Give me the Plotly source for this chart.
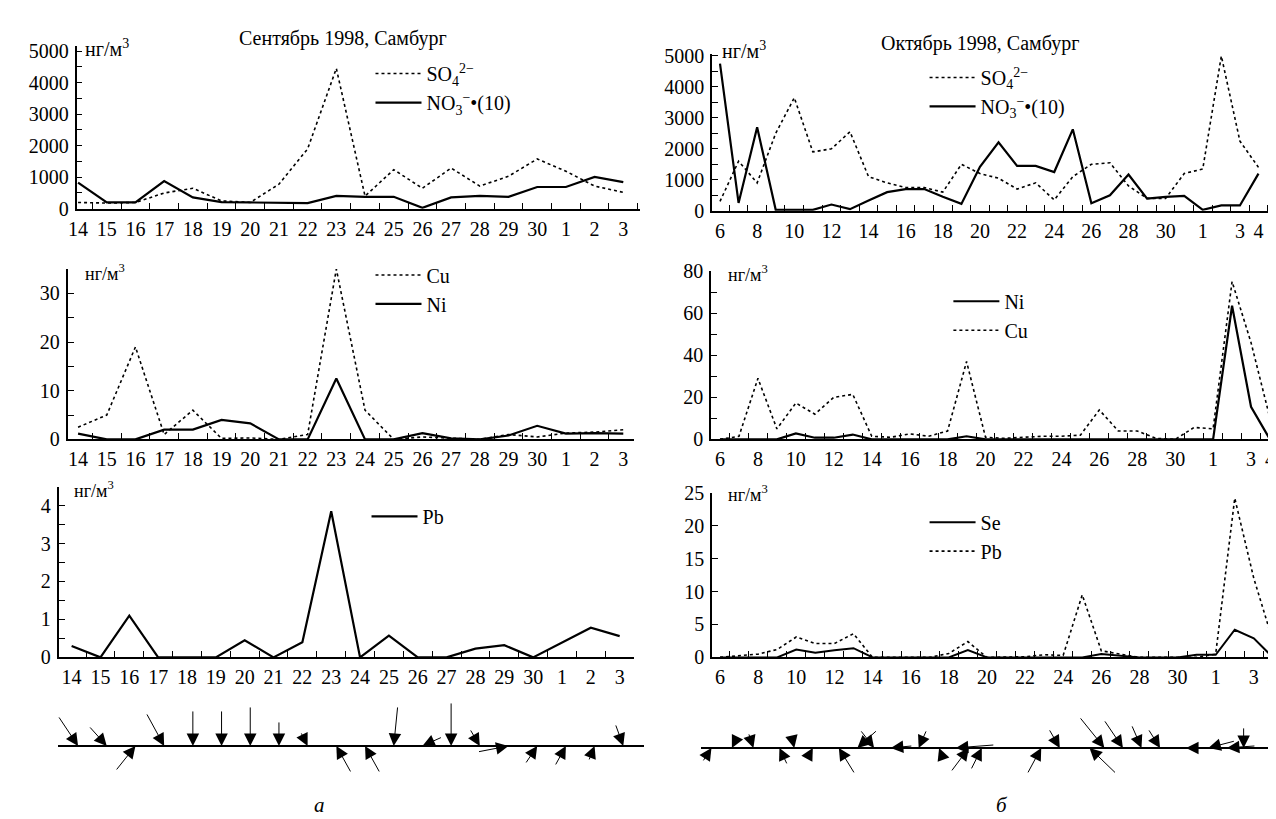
import plotly.graph_objects as go

W, H = 1276, 819
FONT = "Liberation Serif, Times New Roman, serif"

# ---------------- data ----------------
sep_labels = ["14", "15", "16", "17", "18", "19", "20", "21", "22", "23", "24",
              "25", "26", "27", "28", "29", "30", "1", "2", "3"]
sep_so4 = [200, 180, 200, 500, 650, 250, 200, 780, 1900, 4450, 400, 1240, 650,
           1290, 720, 1030, 1580, 1190, 720, 520]
sep_no3x10 = [830, 200, 200, 880, 360, 210, 200, 180, 180, 410, 380, 380, 30,
              360, 410, 380, 690, 690, 1010, 845]
sep_cu = [2.5, 5, 19, 1, 6, 0.2, 0.3, 0, 1, 35, 6, 0, 0.5, 0.3, 0, 1, 0.5, 1.3, 1.5, 2]
sep_ni = [1.2, 0, 0, 2, 2, 4, 3.3, 0, 0, 12.5, 0, 0, 1.3, 0.2, 0, 0.8, 2.8, 1.2, 1.3, 1.2]
sep_pb = [0.3, 0, 1.1, 0, 0, 0, 0.45, 0, 0.4, 3.85, 0, 0.57, 0, 0, 0.23, 0.32, 0,
          0.38, 0.78, 0.56]

oct_days = ["6", "7", "8", "9", "10", "11", "12", "13", "14", "15", "16", "17",
            "18", "19", "20", "21", "22", "23", "24", "25", "26", "27", "28",
            "29", "30", "31", "1", "2", "3", "4"]
oct_tick_labels = ["6", "8", "10", "12", "14", "16", "18", "20", "22", "24",
                   "26", "28", "30", "1", "3", "4"]
oct_so4 = [300, 1600, 900, 2500, 3650, 1900, 2000, 2550, 1100, 900, 750, 750,
           600, 1500, 1200, 1050, 700, 900, 350, 1100, 1500, 1550, 800, 400,
           400, 1200, 1350, 5000, 2250, 1400]
oct_no3x10 = [4750, 250, 2700, 30, 30, 30, 200, 50, 330, 600, 700, 700, 450,
              220, 1420, 2210, 1450, 1450, 1250, 2630, 240, 500, 1170, 390,
              450, 480, 30, 170, 170, 1200]
oct_ni = [0, 0, 0, 0, 2.8, 0.8, 0.8, 2.3, 0, 0, 0, 0, 0, 1.5, 0, 0, 0, 0, 0, 0,
          0, 0, 0, 0, 0, 0, 0, 63.5, 15.5, 0]
oct_cu = [0, 1.5, 29, 5, 17.3, 12, 20, 21.4, 1.5, 1, 2.6, 1.5, 4, 37, 1, 0.5, 1,
          1.5, 1.5, 2, 14, 4, 4, 0.5, 0, 5.7, 5, 75, 46, 10]
oct_pb = [0, 0.2, 0.5, 1.2, 3.1, 2.1, 2.1, 3.6, 0, 0, 0, 0, 0.6, 2.4, 0, 0, 0.1,
          0.4, 0.3, 9.5, 1, 0.5, 0, 0, 0, 0, 0.5, 24.2, 12, 2.5]
oct_se = [0, 0, 0, 0, 1.2, 0.7, 1.1, 1.4, 0, 0, 0, 0, 0, 1.1, 0, 0, 0, 0, 0, 0,
          0.5, 0.3, 0, 0, 0, 0.4, 0.4, 4.2, 2.9, 0]

# wind vectors (east component u, north component v), one per observation
sep_wind_u = [20, 18, 20, 18, 0, 0, 0, 0, 7, -15, -15, -4, -20, 0, 10, 31, 12, 11, 6, 8]
sep_wind_v = [-30, -20, 25, -33, -36, -36, -40, -25, -14, 27, 27, -40, -9, -44,
              -17, 6, 18, 20, 15, -22]
oct_wind_t = [-0.46, 0.64, 1.8, 3.2, 4.0, 5.0, 6.4, 7.4, 8.3, 9.2, 10.7, 11.8,
              12.7, 13.4, 14.1, 17.3, 18.3, 19.9, 20.7, 21.7, 22.7, 23.7, 25.1,
              26.3, 27.3, 28.2, 29.6, 30.2]
oct_wind_u = [9, -4, 5, -8, 3, 6, -16, -20, 14, -22, -8, -3, -39, 18, 11, 14, 11,
              -27, 25, 19, 10, 12, -18, -27, -29, 0, -10, -1]
oct_wind_v = [14, -8, -15, 17, -13, 11, 26, -18, -18, -2, -18, 8, -3, 24, 22, 26,
              -19, 26, -31, -28, -23, -19, 0, -7, -2, -21, -11, -8]

sep_x = list(range(len(sep_labels)))
oct_x = list(range(len(oct_days)))
oct_tick_pos = [0, 2, 4, 6, 8, 10, 12, 14, 16, 18, 20, 22, 24, 26, 28, 29]

fig = go.Figure()

# ---------------- panel geometry (pixels) ----------------
panels = {
    1: dict(l=60, r=627, x0=61.5, step=28.9, y0=195, ppu=162 / 5000, ymax=5150, major=1000, minor=500, side="sep"),
    2: dict(l=700, r=1261, x0=708, step=18.7, y0=197, ppu=159 / 5000, ymax=5050, major=1000, minor=500, side="oct"),
    3: dict(l=51, r=621, x0=61.5, step=28.9, y0=432, ppu=5.0, ymax=35, major=10, minor=5, side="sep"),
    4: dict(l=699, r=1273, x0=708, step=19.1, y0=432, ppu=173 / 80, ymax=80, major=20, minor=10, side="oct"),
    5: dict(l=42, r=621, x0=55, step=29.05, y0=656, ppu=39.0, ymax=4.5, major=1, minor=0.5, side="sep"),
    6: dict(l=700, r=1273, x0=708, step=19.2, y0=656, ppu=169 / 25, ymax=25, major=5, minor=None, side="oct"),
}

tickfont = dict(family=FONT, size=20, color="black")
layout = dict(
    width=W, height=H, margin=dict(l=0, r=0, t=0, b=0),
    paper_bgcolor="white", plot_bgcolor="white",
    font=dict(family=FONT, size=20, color="black"),
    showlegend=True,
)

for k, p in panels.items():
    xr = [(p["l"] - p["x0"]) / p["step"], (p["r"] - p["x0"]) / p["step"]]
    top = p["y0"] - p["ymax"] * p["ppu"]
    n = len(sep_labels) if p["side"] == "sep" else len(oct_days)
    if p["side"] == "sep":
        tv, tt = sep_x, sep_labels
    else:
        tv, tt = oct_tick_pos, oct_tick_labels
    layout["xaxis%d" % k] = dict(
        domain=[p["l"] / W, p["r"] / W], range=xr, anchor="y%d" % k,
        showline=True, linecolor="black", linewidth=1.8, showgrid=False,
        zeroline=False, tickmode="array", tickvals=tv, ticktext=tt,
        ticks="", tickfont=tickfont, ticklabelstandoff=1,
        minor=dict(tickmode="array", tickvals=[i + 0.5 for i in range(n)],
                   ticks="inside", ticklen=6, tickwidth=1.2, tickcolor="black",
                   showgrid=False),
        fixedrange=True,
    )
    ymaj = []
    v = 0
    while v <= p["ymax"] + 1e-9:
        ymaj.append(v)
        v += p["major"]
    ymin_ticks = []
    if p["minor"]:
        v = p["minor"]
        while v <= p["ymax"] + 1e-9:
            if abs(v / p["major"] - round(v / p["major"])) > 1e-6:
                ymin_ticks.append(v)
            v += p["minor"]
    ya = dict(
        domain=[1 - p["y0"] / H, 1 - top / H], range=[0, p["ymax"]],
        anchor="x%d" % k, showline=True, linecolor="black", linewidth=1.8,
        showgrid=False, zeroline=False, tickmode="array", tickvals=ymaj,
        ticks="inside", ticklen=6, tickwidth=1.2, tickcolor="black",
        tickfont=tickfont, ticklabelstandoff=2, fixedrange=True,
    )
    if ymin_ticks:
        ya["minor"] = dict(tickmode="array", tickvals=ymin_ticks, ticks="inside",
                           ticklen=6, tickwidth=1.2, tickcolor="black", showgrid=False)
    layout["yaxis%d" % k] = ya

# wind panels
wind = {
    7: dict(l=41, r=631, x0=61.5, step=28.9, y=747),
    8: dict(l=689, r=1276, x0=708, step=18.7, y=749),
}
for k, p in wind.items():
    layout["xaxis%d" % k] = dict(
        domain=[p["l"] / W, p["r"] / W],
        range=[(p["l"] - p["x0"]) / p["step"], (p["r"] - p["x0"]) / p["step"]],
        anchor="y%d" % k, visible=False, fixedrange=True)
    layout["yaxis%d" % k] = dict(
        domain=[1 - (p["y"] + 40) / H, 1 - (p["y"] - 40) / H], range=[-1, 1],
        anchor="x%d" % k, showline=False, showgrid=False, showticklabels=False,
        ticks="", zeroline=True, zerolinecolor="black", zerolinewidth=1.8,
        fixedrange=True)

# ---------------- traces ----------------
solid = dict(color="black", width=2.2)
dotted = dict(color="black", width=1.6, dash="3px,3px")

def add(x, y, name, line, k, leg):
    fig.add_trace(go.Scatter(x=x, y=y, name=name, mode="lines", line=line,
                             xaxis="x%d" % k, yaxis="y%d" % k, legend=leg,
                             hoverinfo="skip"))

so4 = "SO<sub>4</sub><sup>2−</sup>"
no3 = "NO<sub>3</sub><sup>−</sup>•(10)"
add(sep_x, sep_so4, so4, dotted, 1, "legend")
add(sep_x, sep_no3x10, no3, solid, 1, "legend")
add(oct_x, oct_so4, so4, dotted, 2, "legend2")
add(oct_x, oct_no3x10, no3, solid, 2, "legend2")
add(sep_x, sep_cu, "Cu", dotted, 3, "legend3")
add(sep_x, sep_ni, "Ni", solid, 3, "legend3")
add(oct_x, oct_ni, "Ni", solid, 4, "legend4")
add(oct_x, oct_cu, "Cu", dotted, 4, "legend4")
add(sep_x, sep_pb, "Pb", solid, 5, "legend5")
add(oct_x, oct_se, "Se", dict(color="black", width=2), 6, "legend6")
add(oct_x, oct_pb, "Pb", dotted, 6, "legend6")

def legend_at(xpx, ypx):
    return dict(x=xpx / W, y=1 - ypx / H, xanchor="left", yanchor="top",
                bgcolor="rgba(0,0,0,0)", borderwidth=0, tracegroupgap=0,
                itemwidth=46,
                font=dict(family=FONT, size=20, color="black"),
                itemclick=False, itemdoubleclick=False)

layout["legend"] = legend_at(356, 36)
layout["legend2"] = legend_at(914, 40)
layout["legend3"] = legend_at(356, 243)
layout["legend4"] = legend_at(938, 270)
layout["legend5"] = legend_at(352, 491)
layout["legend6"] = legend_at(914, 497)

# ---------------- annotations ----------------
ann = []
def text(xpx, ypx, s, size=20, xanchor="center", italic=False):
    ann.append(dict(x=xpx / W, y=1 - ypx / H, xref="paper", yref="paper",
                    text=("<i>%s</i>" % s) if italic else s, showarrow=False,
                    xanchor=xanchor, yanchor="middle",
                    font=dict(family=FONT, size=size, color="black")))

text(328, 20, "Сентябрь 1998, Самбург", 20)
text(970, 25, "Октябрь 1998, Самбург", 20)
unit = "нг/м<sup>3</sup>"
text(66, 30, unit, 20, "left")
text(708, 32, unit, 20, "left")
text(66, 260, unit, 18, "left")
text(714, 262, unit, 18, "left")
text(55, 484, unit, 18, "left")
text(714, 488, unit, 18, "left")
text(305, 808, "а", 21, italic=True)
text(992, 808, "б", 21, italic=True)

def wind_arrows(k, ts, us, vs):
    for t, u, v in zip(ts, us, vs):
        ann.append(dict(x=t, y=0, xref="x%d" % k, yref="y%d" % k, text="",
                        showarrow=True, ax=-u, ay=v, axref="pixel", ayref="pixel",
                        arrowhead=2, arrowsize=2.5, arrowwidth=1,
                        arrowcolor="black", standoff=0, startstandoff=0))

wind_arrows(7, sep_x, sep_wind_u, sep_wind_v)
wind_arrows(8, oct_wind_t, oct_wind_u, oct_wind_v)

layout["annotations"] = ann
fig.update_layout(**layout)
fig.write_html("out.html")
